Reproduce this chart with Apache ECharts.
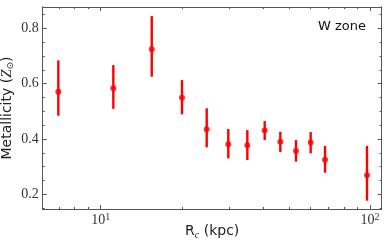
<!DOCTYPE html>
<html><head><meta charset="utf-8">
<script src="https://cdn.jsdelivr.net/npm/echarts@6/dist/echarts.min.js"></script>
<style>html,body{margin:0;padding:0;background:#fff}#c{width:390px;height:244px}</style>
</head><body><div id="c"></div>
<script>
const radius = [6.96, 11.14, 15.47, 20.04, 24.75, 29.77, 35.03, 40.64, 46.45, 53.1, 60.2, 68.07, 97.45];
const metallicity = [0.571, 0.583, 0.724, 0.549, 0.435, 0.381, 0.377, 0.431, 0.390, 0.357, 0.387, 0.325, 0.269];
const zLow = [0.484, 0.509, 0.625, 0.489, 0.370, 0.330, 0.324, 0.396, 0.353, 0.318, 0.348, 0.278, 0.177];
const zHigh = [0.684, 0.667, 0.844, 0.613, 0.511, 0.436, 0.432, 0.465, 0.426, 0.396, 0.425, 0.375, 0.375];
const xMajor = [10, 100];
const xMinor = [7, 8, 9, 20, 30, 40, 50, 60, 70, 80, 90];
const yMajor = [0.2, 0.4, 0.6, 0.8];
const yMinor = [0.15, 0.25, 0.3, 0.35, 0.45, 0.5, 0.55, 0.65, 0.7, 0.75, 0.85];
const xLabels = {10: '{b|10}{s|1}', 100: '{b|10}{s|2}'};

const chart = echarts.init(document.getElementById('c'), null, {renderer: 'canvas'});
const axisColor = '#555';
const serif = '"Liberation Serif", "DejaVu Serif", serif';
const sans = '"DejaVu Sans", sans-serif';
const XMIN = 6.09, XMAX = 110.5, YMIN = 0.147, YMAX = 0.877;

function xAxisDef(pos, ticks, len, labels) {
  return {
    type: 'log', logBase: 10, min: XMIN, max: XMAX, position: pos,
    axisLine: {show: true, lineStyle: {color: axisColor, width: 1}},
    axisTick: {show: true, inside: true, length: len, customValues: ticks, lineStyle: {color: axisColor}},
    axisLabel: labels ? {show: true, customValues: xMajor, margin: 3, color: '#333', fontFamily: serif, fontSize: 14,
      formatter: v => xLabels[Math.round(v)] || '',
      rich: {b: {fontSize: 14, fontFamily: serif, color: '#333', lineHeight: 16},
             s: {fontSize: 10, fontFamily: serif, color: '#333', verticalAlign: 'top', lineHeight: 10}}} : {show: false},
    splitLine: {show: false}, minorTick: {show: false}
  };
}
function yAxisDef(pos, ticks, len, labels) {
  return {
    type: 'value', min: YMIN, max: YMAX, position: pos,
    axisLine: {show: true, lineStyle: {color: axisColor, width: 1}},
    axisTick: {show: true, inside: true, length: len, customValues: ticks, lineStyle: {color: axisColor}},
    axisLabel: labels ? {show: true, customValues: yMajor, margin: 4, color: '#333', fontFamily: serif, fontSize: 14,
      formatter: v => v.toFixed(1)} : {show: false},
    splitLine: {show: false}
  };
}

const xAxes = [xAxisDef('bottom', xMajor, 4, true), xAxisDef('bottom', xMinor, 2, false),
  xAxisDef('top', xMajor, 4, false), xAxisDef('top', xMinor, 2, false)];
xAxes[0].name = 'R{c|c} (kpc)';
xAxes[0].nameLocation = 'middle';
xAxes[0].nameGap = 14;
xAxes[0].nameMoveOverlap = false;
xAxes[0].nameTextStyle = {fontFamily: sans, fontSize: 14, color: '#222', verticalAlign: 'top',
  rich: {c: {fontFamily: serif, fontStyle: 'italic', fontSize: 10, color: '#222', verticalAlign: 'bottom', padding: [7, 0, 0, 0]}}};
const yAxes = [yAxisDef('left', yMajor, 4, true), yAxisDef('left', yMinor, 2, false),
  yAxisDef('right', yMajor, 4, false), yAxisDef('right', yMinor, 2, false)];
yAxes[0].name = 'Metallicity ({z|Z}{o|⊙})';
yAxes[0].nameLocation = 'middle';
yAxes[0].nameGap = 28;
yAxes[0].nameMoveOverlap = false;
yAxes[0].nameTextStyle = {fontFamily: sans, fontSize: 14, color: '#222', verticalAlign: 'bottom',
  rich: {z: {fontFamily: serif, fontStyle: 'italic', fontSize: 15, color: '#222'},
         o: {fontFamily: sans, fontSize: 9, color: '#222', verticalAlign: 'bottom', padding: [6, 0, 0, 0]}}};

chart.setOption({
  animation: false,
  grid: {left: 42.7, right: 8.3, top: 7, bottom: 35, containLabel: false, outerBoundsMode: 'none'},
  title: {text: 'W zone', right: 19, top: 15, textStyle: {fontFamily: sans, fontSize: 13, fontWeight: 'normal', color: '#111'}},
  xAxis: xAxes,
  yAxis: yAxes,
  series: [
    {type: 'custom', xAxisIndex: 0, yAxisIndex: 0,
     data: radius.map((r, i) => [r, zLow[i], zHigh[i]]),
     encode: {x: 0, y: [1, 2]},
     renderItem: (params, api) => {
       const a = api.coord([api.value(0), api.value(1)]);
       const b = api.coord([api.value(0), api.value(2)]);
       return {type: 'line', shape: {x1: a[0], y1: a[1], x2: b[0], y2: b[1]}, style: {stroke: '#ff0000', lineWidth: 2.4}};
     }},
    {type: 'scatter', xAxisIndex: 0, yAxisIndex: 0, symbol: 'circle', symbolSize: 6,
     itemStyle: {color: '#ff0000'}, data: radius.map((r, i) => [r, metallicity[i]])}
  ]
});
</script></body></html>
